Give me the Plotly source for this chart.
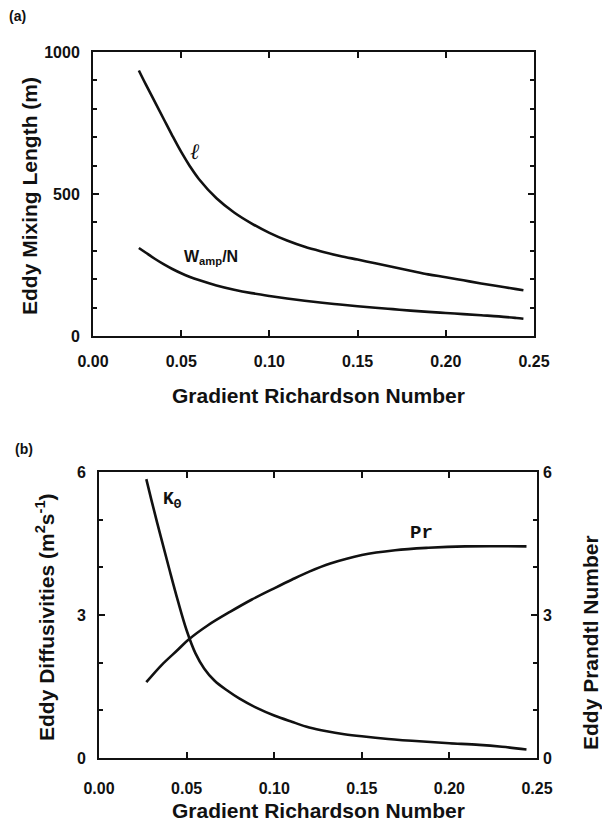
import plotly.graph_objects as go

# ---------------- data ----------------
ri_a = [0.026, 0.03, 0.035, 0.04, 0.045, 0.05, 0.055, 0.06, 0.07, 0.08, 0.09, 0.10,
        0.11, 0.12, 0.13, 0.14, 0.15, 0.16, 0.17, 0.18, 0.19, 0.20, 0.21, 0.22,
        0.23, 0.24, 0.244]
mixing_length = [935, 885, 825, 765, 705, 648, 597, 553, 485, 435, 396, 363,
                 336, 314, 297, 282, 269, 256, 243, 230, 217, 207, 196, 185,
                 175, 165, 161]
wamp_over_n = [310, 293, 272, 253, 236, 221, 208, 197, 178, 163, 151, 141,
               132, 124, 117, 111, 105, 99.5, 94.5, 89.5, 85, 81, 77, 73,
               69, 63.5, 61]

ri_k = [0.027, 0.030, 0.035, 0.040, 0.045, 0.050, 0.055, 0.060, 0.066, 0.073,
        0.080, 0.090, 0.100, 0.110, 0.120, 0.130, 0.140, 0.150, 0.165, 0.185,
        0.200, 0.217, 0.230, 0.244]
k_theta = [5.85, 5.40, 4.68, 3.98, 3.30, 2.68, 2.20, 1.88, 1.62, 1.42,
           1.25, 1.05, 0.89, 0.76, 0.64, 0.56, 0.50, 0.455, 0.40, 0.345,
           0.31, 0.275, 0.235, 0.18]

ri_pr = [0.027, 0.036, 0.045, 0.051, 0.062, 0.075, 0.087, 0.100, 0.110, 0.120,
         0.132, 0.150, 0.169, 0.188, 0.209, 0.244]
prandtl = [1.59, 1.96, 2.27, 2.48, 2.78, 3.07, 3.32, 3.56, 3.74, 3.91,
           4.08, 4.26, 4.36, 4.41, 4.44, 4.44]

x_ticks = [0.00, 0.05, 0.10, 0.15, 0.20, 0.25]
x_ticklabels = ["0.00", "0.05", "0.10", "0.15", "0.20", "0.25"]
ya_ticks = [0, 500, 1000]
yb_ticks = [0, 3, 6]

# ---------------- layout helpers ----------------
W, H = 602, 822
def px_x(p):
    return p / W
def px_y(p):
    return 1 - p / H

FONT = "Liberation Sans"
BLACK = "#111111"
LW = 2.6

fig = go.Figure()

fig.add_trace(go.Scatter(x=ri_a, y=mixing_length, mode="lines",
                         line=dict(color=BLACK, width=LW, shape="spline"),
                         xaxis="x", yaxis="y", showlegend=False))
fig.add_trace(go.Scatter(x=ri_a, y=wamp_over_n, mode="lines",
                         line=dict(color=BLACK, width=LW, shape="spline"),
                         xaxis="x", yaxis="y", showlegend=False))
fig.add_trace(go.Scatter(x=ri_k, y=k_theta, mode="lines",
                         line=dict(color=BLACK, width=LW, shape="spline"),
                         xaxis="x2", yaxis="y2", showlegend=False))
fig.add_trace(go.Scatter(x=ri_pr, y=prandtl, mode="lines",
                         line=dict(color=BLACK, width=LW, shape="spline"),
                         xaxis="x2", yaxis="y3", showlegend=False))

tickfont = dict(family=FONT, size=16, color=BLACK, weight="bold")

xcommon = dict(range=[0, 0.25], tickvals=x_ticks, ticktext=x_ticklabels,
               ticks="inside", ticklen=6, tickwidth=1.5, tickcolor=BLACK,
               showline=True, linecolor=BLACK, linewidth=2, mirror="ticks",
               showgrid=False, zeroline=False, tickfont=tickfont,
               automargin=False)

fig.update_layout(
    template="none",
    width=W, height=H,
    margin=dict(l=0, r=0, t=0, b=0, autoexpand=False),
    paper_bgcolor="white", plot_bgcolor="white",
    xaxis=dict(domain=[px_x(93), px_x(534)], anchor="y",
               ticklabelstandoff=10, **xcommon),
    yaxis=dict(domain=[px_y(336), px_y(52)], anchor="x", range=[0, 1000],
               tickvals=ya_ticks, ticks="inside", ticklen=6, tickwidth=1.5,
               tickcolor=BLACK, showline=True, linecolor=BLACK, linewidth=2,
               mirror="ticks", showgrid=False, zeroline=False,
               tickfont=tickfont, ticklabelstandoff=8, automargin=False,
               minor=dict(dtick=100, tick0=0, ticks="inside", ticklen=4,
                          tickcolor=BLACK, showgrid=False)),
    xaxis2=dict(domain=[px_x(99), px_x(537)], anchor="y2",
                ticklabelstandoff=15, **xcommon),
    yaxis2=dict(domain=[px_y(758), px_y(472)], anchor="x2", range=[0, 6],
                tickvals=yb_ticks, ticks="inside", ticklen=6, tickwidth=1.5,
                tickcolor=BLACK, showline=True, linecolor=BLACK, linewidth=2,
                mirror=True, showgrid=False, zeroline=False,
                tickfont=tickfont, ticklabelstandoff=8, automargin=False,
                minor=dict(dtick=1, tick0=0, ticks="inside", ticklen=4,
                           tickcolor=BLACK, showgrid=False)),
    yaxis3=dict(overlaying="y2", anchor="x2", side="right", range=[0, 6],
                tickvals=yb_ticks, ticks="inside", ticklen=6, tickwidth=1.5,
                tickcolor=BLACK, showline=False, showgrid=False,
                zeroline=False, tickfont=tickfont, ticklabelstandoff=5,
                automargin=False,
                minor=dict(dtick=1, tick0=0, ticks="inside", ticklen=4,
                           tickcolor=BLACK, showgrid=False)),
)

title_font = dict(family=FONT, size=21, color=BLACK, weight="bold")
C = dict(xanchor="center", yanchor="middle", showarrow=False)
ann = []
# axis titles
ann.append(dict(text="Gradient Richardson Number", x=px_x(318), y=px_y(395),
                xref="paper", yref="paper", font=title_font, **C))
ann.append(dict(text="Gradient Richardson Number", x=px_x(318), y=px_y(810),
                xref="paper", yref="paper", font=title_font, **C))
ann.append(dict(text="Eddy Mixing Length (m)", x=px_x(30), y=px_y(196),
                xref="paper", yref="paper", textangle=-90,
                font=title_font, **C))
ann.append(dict(text="Eddy Diffusivities (m<sup>2</sup>s<sup>-1</sup>)",
                x=px_x(45), y=px_y(617), xref="paper", yref="paper",
                textangle=-90, font=title_font, **C))
ann.append(dict(text="Eddy Prandtl Number", x=px_x(590), y=px_y(643),
                xref="paper", yref="paper", textangle=-90,
                font=title_font, **C))
# panel labels
ann.append(dict(text="(a)", x=px_x(17), y=px_y(16), xref="paper", yref="paper",
                font=dict(family=FONT, size=14, color=BLACK, weight="bold"),
                **C))
ann.append(dict(text="(b)", x=px_x(24), y=px_y(449), xref="paper", yref="paper",
                font=dict(family=FONT, size=14, color=BLACK, weight="bold"),
                **C))
# curve labels
ann.append(dict(text="<i>ℓ</i>", x=0.058, y=650, xref="x", yref="y",
                font=dict(family="DejaVu Serif", size=22, color=BLACK), **C))
ann.append(dict(text="W<sub>amp</sub>/N", x=0.067, y=275, xref="x", yref="y",
                font=dict(family=FONT, size=16, color=BLACK, weight="bold"),
                **C))
ann.append(dict(text="K<sub>Θ</sub>", x=0.042, y=5.4, xref="x2", yref="y2",
                font=dict(family="Liberation Mono", size=18, color=BLACK,
                          weight="bold"), **C))
ann.append(dict(text="Pr", x=0.184, y=4.72, xref="x2", yref="y2",
                font=dict(family="Liberation Mono", size=19, color=BLACK,
                          weight="bold"), **C))
fig.update_layout(annotations=ann)

fig.write_html("out.html",
               config={"displayModeBar": False},
               post_script="document.body.style.margin='0';"
                           "document.body.style.padding='0';")
